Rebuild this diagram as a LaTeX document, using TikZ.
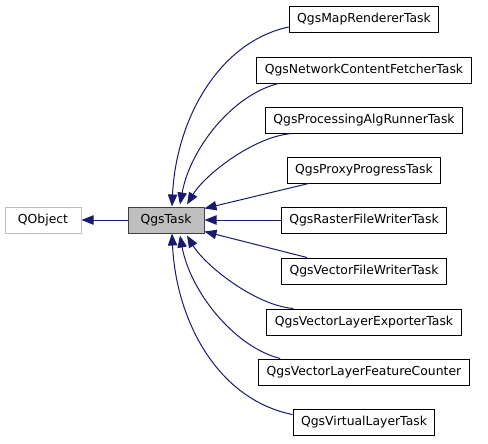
\documentclass[tikz,border=0pt]{standalone}
\usepackage{fontspec}
\setmainfont{DejaVu Sans}
\usepackage{tikz}
\usetikzlibrary{arrows.meta}
\usetikzlibrary{calc}
\definecolor{edgeblue}{HTML}{191970}
\definecolor{taskgray}{HTML}{BFBFBF}
\definecolor{taskline}{HTML}{404040}

\begin{document}
\begin{tikzpicture}[x=0.75pt,y=-0.75pt,
	cls/.style={draw=black, line width=0.75pt, minimum height=19.5pt, inner xsep=6pt, inner ysep=0pt, font=\fontsize{9.3}{11}\selectfont},
	basecls/.style={cls, draw=taskgray, minimum width=57pt},
	curcls/.style={cls, draw=taskline, fill=taskgray, minimum width=57pt},
	inh/.style={draw=edgeblue, line width=0.75pt, {Triangle[length=9pt,width=7pt,fill=edgeblue]}-}]
	\useasboundingbox (0,0) rectangle (488,443);
	% left column
	\node[basecls] (qobject) at (43,220) {QObject};
	\node[curcls] (task) at (166,220) {QgsTask};
	% derived classes
	\node[cls] (map) at (364,19.5) {QgsMapRendererTask};
	\node[cls] (net) at (364,70) {QgsNetworkContentFetcherTask};
	\node[cls] (alg) at (364,120) {QgsProcessingAlgRunnerTask};
	\node[cls] (proxy) at (364,170) {QgsProxyProgressTask};
	\node[cls] (raster) at (364,220) {QgsRasterFileWriterTask};
	\node[cls] (vfile) at (364,271) {QgsVectorFileWriterTask};
	\node[cls] (export) at (364,322) {QgsVectorLayerExporterTask};
	\node[cls] (counter) at (364,372) {QgsVectorLayerFeatureCounter};
	\node[cls] (virtual) at (364,422) {QgsVirtualLayerTask};
	% inheritance
	\draw[inh] (qobject) -- (task);
	\draw[inh] ($(task.north)+(6,0)$) .. controls +(4,-87) and +(-70,15) .. ($(map.south west)+(0,-6)$);
	\draw[inh] ($(task.north)+(14,-2)$) .. controls +(10,-55) and +(-47,12) .. ($(net.south west)+(22,0)$);
	\draw[inh] ($(task.north)+(21,-2)$) .. controls +(18,-30) and +(-38,3) .. ($(alg.south west)+(27,0)$);
	\draw[inh] ($(task.north east)+(0,2)$) -- ($(proxy.south west)+(22,0)$);
	\draw[inh] (task.east) -- (raster.west);
	\draw[inh] ($(task.south east)+(0,-2)$) -- ($(vfile.north west)+(26,0)$);
	\draw[inh] ($(task.south)+(21,2)$) .. controls +(18,30) and +(-38,-3) .. ($(export.north west)+(27,0)$);
	\draw[inh] ($(task.south)+(14,2)$) .. controls +(10,55) and +(-47,-12) .. ($(counter.north west)+(22,0)$);
	\draw[inh] ($(task.south)+(6,0)$) .. controls +(4,87) and +(-75,-15) .. ($(virtual.north west)+(0,6)$);
\end{tikzpicture}
\end{document}
